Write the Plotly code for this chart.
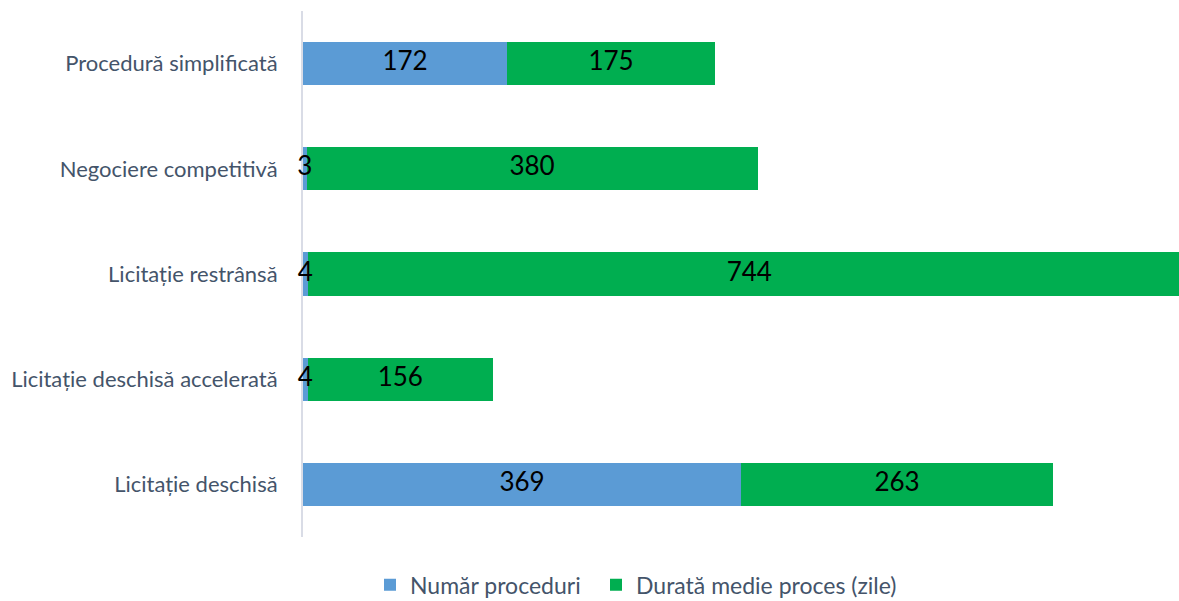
import plotly.graph_objects as go

categories = ["Licitație deschisă", "Licitație deschisă accelerată", "Licitație restrânsă",
              "Negociere competitivă", "Procedură simplificată"]
numar_proceduri = [369, 4, 4, 3, 172]
durata_medie = [263, 156, 744, 380, 175]

name_a = "Număr proceduri"
name_b = "Durată medie proces (zile)"

blue = "#5B9BD5"
green = "#00AE50"
slate = "#44546A"

fig = go.Figure()
fig.add_trace(go.Bar(y=categories, x=numar_proceduri, orientation="h", name=name_a,
                     marker=dict(color=blue, line=dict(width=0)), hoverinfo="x+y",
                     legend="legend"))
fig.add_trace(go.Bar(y=categories, x=durata_medie, orientation="h", name=name_b,
                     marker=dict(color=green, line=dict(width=0)), hoverinfo="x+y",
                     legend="legend2"))

mid_a = [a / 2 for a in numar_proceduri]
mid_b = [a + b / 2 for a, b in zip(numar_proceduri, durata_medie)]
lbl_font = dict(family="Lato, Carlito, sans-serif", size=26, color="black")
fig.add_trace(go.Scatter(x=mid_a, y=categories, mode="text", text=[str(v) for v in numar_proceduri],
                         textfont=lbl_font, showlegend=False, hoverinfo="skip", cliponaxis=False))
fig.add_trace(go.Scatter(x=mid_b, y=categories, mode="text", text=[str(v) for v in durata_medie],
                         textfont=lbl_font, showlegend=False, hoverinfo="skip", cliponaxis=False))

legend_common = dict(orientation="h", xref="container", yref="container", xanchor="left",
                     yanchor="middle", y=0.027, font=dict(size=23, color=slate),
                     bgcolor="rgba(0,0,0,0)")

fig.update_layout(
    barmode="stack",
    bargap=0.59,
    width=1179, height=601,
    margin=dict(l=303, r=0, t=11, b=64),
    plot_bgcolor="white", paper_bgcolor="white",
    font=dict(family="Lato, Carlito, sans-serif", color=slate),
    xaxis=dict(range=[0, 738], showgrid=False, showticklabels=False, zeroline=False,
               showline=False, ticks=""),
    yaxis=dict(showgrid=False, showline=True, linecolor="#D9DCE6", linewidth=2,
               layer="below traces",
               ticks="", tickfont=dict(size=22, color=slate), ticklabelstandoff=19,
               categoryorder="array", categoryarray=categories, range=[-0.5, 4.5]),
    legend=dict(x=370 / 1179, **legend_common),
    legend2=dict(x=596 / 1179, **legend_common),
    showlegend=True,
)

fig.write_html("out.html", post_script="document.body.style.margin='0';",
               config={"displayModeBar": False})
